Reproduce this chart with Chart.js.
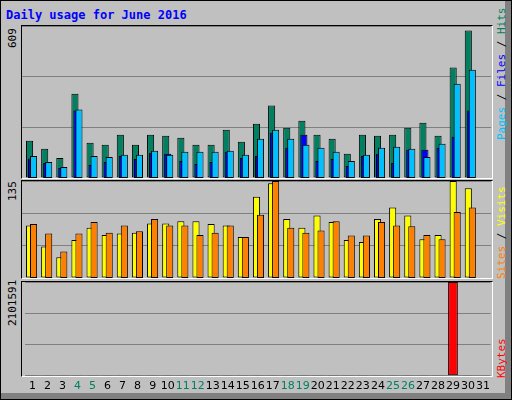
<!DOCTYPE html>
<html><head><meta charset="utf-8">
<script src="https://cdn.jsdelivr.net/npm/chart.js@4"></script>
<style>
body{margin:0;background:#fff;}
#wrap{position:relative;width:512px;height:400px;background:#C0C0C0;box-sizing:border-box;border:1px solid #000;overflow:hidden;}
#shadeR{position:absolute;right:0;top:0;width:6px;height:400px;background:#808080;}
#shadeB{position:absolute;left:0;bottom:0;height:6px;width:512px;background:#808080;}
.frame{position:absolute;border:1px solid #000;border-right-color:#fff;border-bottom-color:#fff;box-sizing:border-box;}
canvas{position:absolute;}
.t{position:absolute;font-family:"DejaVu Sans Mono",monospace;font-size:11px;white-space:nowrap;transform:rotate(-90deg);transform-origin:left top;}
#title{position:absolute;left:5px;top:7px;font-family:"DejaVu Sans Mono",monospace;font-weight:bold;font-size:12px;color:#0000FF;}
</style></head><body>
<div id="wrap">
<div id="shadeR"></div><div id="shadeB"></div>
<div id="title">Daily usage for June 2016</div>
<div class="frame" style="left:20px;top:24px;width:472px;height:154px"></div>
<div class="frame" style="left:20px;top:179px;width:472px;height:99px"></div>
<div class="frame" style="left:20px;top:280px;width:472px;height:96px"></div>
<div class="t" style="left:5px;top:47px">609</div>
<div class="t" style="left:5px;top:200px">135</div>
<div class="t" style="left:5px;top:325px">2101591</div>
<div class="t" style="left:494px;top:139px"><span style="color:#00C0FF">Pages</span><span style="color:#000"> / </span><span style="color:#0000FF">Files</span><span style="color:#000"> / </span><span style="color:#008060">Hits</span></div>
<div class="t" style="left:494px;top:278px"><span style="color:#FF8000">Sites</span><span style="color:#000"> / </span><span style="color:#FFFF00">Visits</span></div>
<div class="t" style="left:494px;top:377px"><span style="color:#FF0000">KBytes</span></div>
<canvas id="cHits" style="left:21px;top:25px" width="469" height="152"></canvas>
<canvas id="cPages" style="left:23px;top:25px" width="469" height="152"></canvas>
<canvas id="cFiles" style="left:25px;top:25px" width="469" height="152"></canvas>
<canvas id="cSites" style="left:21px;top:180px" width="469" height="97"></canvas>
<canvas id="cVisits" style="left:25px;top:180px" width="469" height="97"></canvas>
<canvas id="cKb" style="left:24px;top:281px" width="469" height="117"></canvas>
</div>
<script>
const days = Array.from({length:31},(_, i)=>String(i+1));
const weekend = ["4","5","11","12","18","19","25","26"];
const hits  = [149,117,80,338,141,133,173,133,173,169,161,133,133,193,145,217,290,201,229,173,157,97,173,169,173,201,221,169,443,591,0];
const files = [88,64,44,274,88,84,93,93,109,93,105,105,105,109,93,157,193,157,133,121,105,68,93,121,125,117,84,137,378,434,0];
const pages = [78,60,40,270,52,64,88,76,101,97,68,56,64,105,80,88,181,121,173,68,76,48,88,97,60,113,113,121,165,270,0];
const sites = [73,44,29,53,70,60,62,63,76,76,79,79,75,73,57,113,132,82,70,87,78,53,50,82,98,87,54,60,135,125,0];
const visits= [75,62,37,62,78,63,73,65,82,73,73,60,63,73,57,88,135,70,63,66,79,59,59,78,73,72,60,54,92,98,0];
const kbytes= [20000,20000,20000,20000,20000,20000,20000,20000,20000,20000,20000,20000,20000,20000,20000,20000,20000,20000,20000,20000,20000,20000,20000,20000,20000,20000,20000,20000,2101591,20000,0];

Chart.defaults.animation=false;
function yScale(max,grid){
  return {min:0,max:max,stacked:false,ticks:{display:false,stepSize:max/3},
    grid:{display:grid,color:'#808080',lineWidth:1,drawTicks:false},border:{display:false},
    afterFit(s){s.width=0;}};
}
function xScale(show){
  return {display:show,grid:{display:false,drawTicks:false},border:{display:false},
    ticks:{padding:4,font:{family:'DejaVu Sans',size:11},color:c=>weekend.includes(days[c.index])?'#008060':'#000',maxRotation:0,autoSkip:false}};
}
const common={responsive:false,plugins:{legend:{display:false},tooltip:{enabled:false}},layout:{padding:0}};
function bars(id,data,color,max,grid,opts){
  new Chart(id,{type:'bar',data:{labels:days,datasets:[
    Object.assign({data:data,backgroundColor:color,borderColor:'#000',borderWidth:1,borderSkipped:false,barPercentage:0.47,categoryPercentage:1},opts||{})
  ]},options:Object.assign({},common,{scales:{x:xScale(false),y:yScale(max,grid)}})});
}
bars('cHits',hits,'#008060',609,true);
bars('cPages',pages,'#0000FF',609,false);
bars('cFiles',files,'#00C0FF',609,false);
bars('cSites',sites,'#FFFF00',135,true);
bars('cVisits',visits,'#FF8000',135,false);
new Chart('cKb',{type:'bar',data:{labels:days,datasets:[
 {data:kbytes,backgroundColor:'#FF0000',borderColor:'#000',borderWidth:1,borderSkipped:false,barPercentage:0.65,categoryPercentage:1}
]},options:{...common,layout:{padding:{bottom:2}},scales:{x:xScale(true),y:yScale(2101591,true)}}});
</script>
</body></html>
